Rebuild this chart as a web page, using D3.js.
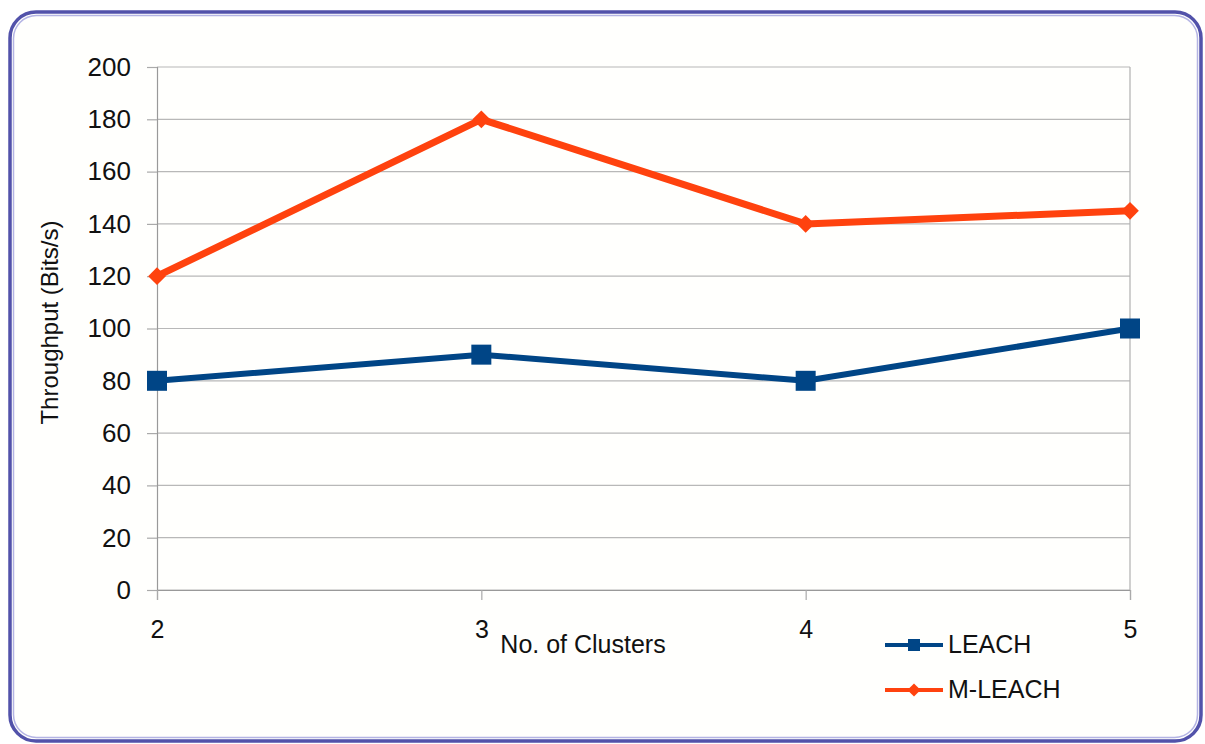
<!DOCTYPE html>
<html>
<head>
<meta charset="utf-8">
<script src="https://cdn.jsdelivr.net/npm/d3@7/dist/d3.min.js"></script>
<style>
  html, body { margin: 0; padding: 0; background: #ffffff; }
  svg { display: block; }
  text { font-family: "Liberation Sans", Arial, sans-serif; fill: #111; }
</style>
</head>
<body>
<svg id="chart" width="1205" height="744"></svg>
<script>
// Throughput vs. number of clusters
const clusters = [2, 3, 4, 5];
const leach = [80, 90, 80, 100];
const mLeach = [120, 180, 140, 145];
const yTicks = [0, 20, 40, 60, 80, 100, 120, 140, 160, 180, 200];
const seriesNames = ["LEACH", "M-LEACH"];

const svg = d3.select("#chart");

// framed card
svg.append("rect")
  .attr("x", 10).attr("y", 12).attr("width", 1191).attr("height", 729)
  .attr("rx", 26).attr("ry", 26)
  .attr("fill", "#fffffd")
  .attr("stroke", "#5252aa").attr("stroke-width", 3.5);
svg.append("rect")
  .attr("x", 13.5).attr("y", 15.5).attr("width", 1184).attr("height", 722)
  .attr("rx", 23).attr("ry", 23)
  .attr("fill", "none")
  .attr("stroke", "#b4b4e4").attr("stroke-width", 1.5);

const plot = { left: 157, right: 1130, top: 67, bottom: 590 };

const x = d3.scaleLinear().domain([2, 5]).range([plot.left, plot.right]);
const y = d3.scaleLinear().domain([0, 200]).range([plot.bottom, plot.top]);

// horizontal gridlines
svg.append("g")
  .selectAll("line")
  .data(yTicks)
  .join("line")
  .attr("x1", plot.left).attr("x2", plot.right)
  .attr("y1", d => y(d)).attr("y2", d => y(d))
  .attr("stroke", "#b8b8b8").attr("stroke-width", 1.2);

// right border of plot area
svg.append("line")
  .attr("x1", plot.right).attr("x2", plot.right)
  .attr("y1", plot.top).attr("y2", plot.bottom)
  .attr("stroke", "#b0b0b0").attr("stroke-width", 1.2);

// y axis
const yAxis = d3.axisLeft(y).tickValues(yTicks).tickSize(10).tickPadding(16);
const gy = svg.append("g").attr("transform", `translate(${plot.left},0)`).call(yAxis);
gy.select(".domain").attr("stroke", "#999").attr("stroke-width", 1.2);
gy.selectAll(".tick line").attr("stroke", "#aaa").attr("stroke-width", 1.2);
gy.selectAll(".tick text")
  .style("font-size", "26px").attr("fill", "#111")
  .attr("font-family", "Liberation Sans, Arial, sans-serif");

// x axis
const xAxis = d3.axisBottom(x).tickValues(clusters).tickSize(10).tickPadding(20)
  .tickFormat(d3.format("d"));
const gx = svg.append("g").attr("transform", `translate(0,${plot.bottom})`).call(xAxis);
gx.select(".domain").attr("stroke", "#999").attr("stroke-width", 1.2);
gx.selectAll(".tick line").attr("stroke", "#aaa").attr("stroke-width", 1.2);
gx.selectAll(".tick text")
  .style("font-size", "25px").attr("fill", "#111")
  .attr("font-family", "Liberation Sans, Arial, sans-serif");

// axis titles
svg.append("text")
  .attr("x", 583).attr("y", 653)
  .attr("text-anchor", "middle")
  .style("font-size", "25px")
  .text("No. of Clusters");

svg.append("text")
  .attr("transform", `translate(58,${(plot.top + plot.bottom) / 2 - 6}) rotate(-90)`)
  .attr("text-anchor", "middle")
  .style("font-size", "24px")
  .text("Throughput (Bits/s)");

const colors = ["#004586", "#ff420e"];
const line = d3.line().x((d, i) => x(clusters[i])).y(d => y(d));

// LEACH
svg.append("path")
  .datum(leach)
  .attr("d", line)
  .attr("fill", "none")
  .attr("stroke", colors[0]).attr("stroke-width", 6)
  .attr("stroke-linejoin", "round");
svg.append("g").selectAll("rect")
  .data(leach)
  .join("rect")
  .attr("x", (d, i) => x(clusters[i]) - 10)
  .attr("y", d => y(d) - 10)
  .attr("width", 20).attr("height", 20)
  .attr("fill", colors[0]);

// M-LEACH
svg.append("path")
  .datum(mLeach)
  .attr("d", line)
  .attr("fill", "none")
  .attr("stroke", colors[1]).attr("stroke-width", 7)
  .attr("stroke-linejoin", "round");
const diamond = d3.symbol().type(d3.symbolDiamond2).size(200);
svg.append("g").selectAll("path")
  .data(mLeach)
  .join("path")
  .attr("transform", (d, i) => `translate(${x(clusters[i])},${y(d)})`)
  .attr("d", diamond)
  .attr("fill", colors[1]);

// legend
const legend = svg.append("g");
const legendRows = [645, 690];
seriesNames.forEach((name, i) => {
  const ly = legendRows[i];
  legend.append("line")
    .attr("x1", 885).attr("x2", 943)
    .attr("y1", ly).attr("y2", ly)
    .attr("stroke", colors[i]).attr("stroke-width", 4);
  if (i === 0) {
    legend.append("rect")
      .attr("x", 908).attr("y", ly - 6).attr("width", 12).attr("height", 12)
      .attr("fill", colors[i]);
  } else {
    legend.append("path")
      .attr("transform", `translate(914,${ly})`)
      .attr("d", d3.symbol().type(d3.symbolDiamond2).size(110))
      .attr("fill", colors[i]);
  }
  legend.append("text")
    .attr("x", 948).attr("y", ly + 8)
    .style("font-size", "25px")
    .text(name);
});
</script>
</body>
</html>
